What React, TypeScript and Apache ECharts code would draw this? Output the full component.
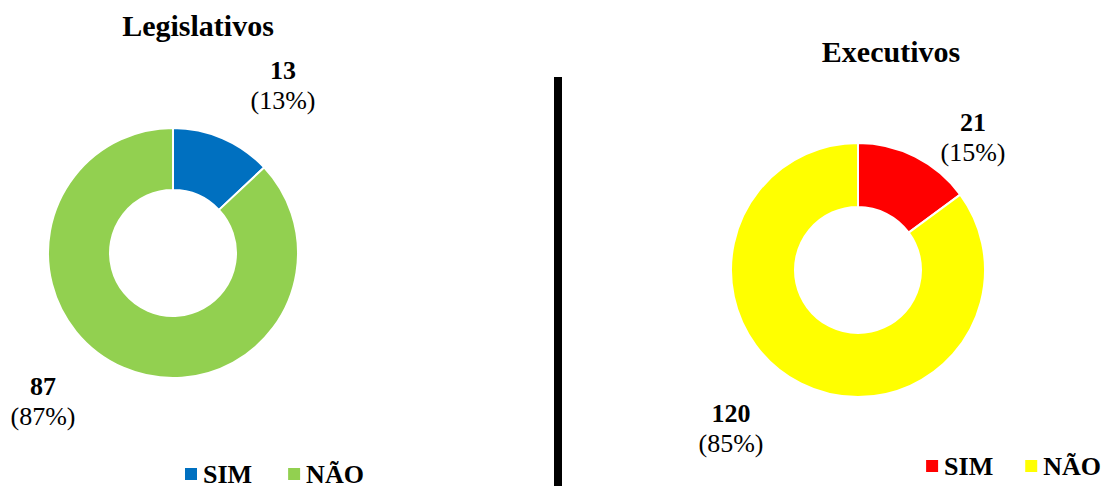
import React, { useEffect, useRef } from "react";
import * as echarts from "echarts";

const categories = ["SIM", "NÃO"];
const legislativosValues = [13, 87];
const executivosValues = [21, 120];
const legislativosColors = ["#0070C0", "#92D050"];
const executivosColors = ["#FF0000", "#FFFF00"];
const titles = ["Legislativos", "Executivos"];

const FONT = "Liberation Serif";

export default function App() {
  const ref = useRef<HTMLDivElement>(null);
  useEffect(() => {
    document.body.style.margin = "0";
    const chart = echarts.init(ref.current!, null, { renderer: "svg" });
    const leftLabelPos = [
      [283, 85],
      [43, 401],
    ];
    const rightLabelPos = [
      [973, 137],
      [731, 428],
    ];
    const label = {
      show: true,
      formatter: "{a|{c}}\n{b|({d}%)}",
      rich: {
        a: { fontFamily: FONT, fontWeight: "bold", fontSize: 26, color: "#000", lineHeight: 30 },
        b: { fontFamily: FONT, fontSize: 26, color: "#000", lineHeight: 30 },
      },
    };
    const legendText = { fontFamily: FONT, fontWeight: "bold", fontSize: 26, color: "#000", lineHeight: 20 };
    chart.setOption({
      animation: false,
      title: [
        {
          text: titles[0],
          left: 198,
          top: 10,
          textAlign: "center",
          padding: 0,
          textStyle: { fontFamily: FONT, fontWeight: "bold", fontSize: 30, color: "#000" },
        },
        {
          text: titles[1],
          left: 891,
          top: 36,
          textAlign: "center",
          padding: 0,
          textStyle: { fontFamily: FONT, fontWeight: "bold", fontSize: 30, color: "#000" },
        },
      ],
      legend: [
        {
          left: 183,
          top: 461,
          padding: 0,
          icon: "rect",
          itemWidth: 14,
          itemHeight: 14,
          itemGap: 34,
          textStyle: legendText,
          data: categories.map((c, i) => ({ name: c, itemStyle: { color: legislativosColors[i] } })),
        },
        {
          right: 5,
          top: 453,
          width: 300,
          padding: 0,
          icon: "rect",
          itemWidth: 14,
          itemHeight: 14,
          itemGap: 30,
          textStyle: legendText,
          data: categories.map((c, i) => ({ name: c, itemStyle: { color: executivosColors[i] } })),
        },
      ],
      graphic: [
        { type: "rect", shape: { x: 554, y: 77, width: 8, height: 420 }, style: { fill: "#000" } },
      ],
      series: [
        {
          type: "pie",
          center: [173, 253],
          radius: [63, 125],
          startAngle: 90,
          clockwise: true,
          percentPrecision: 0,
          itemStyle: { borderColor: "#fff", borderWidth: 2 },
          label,
          labelLine: { show: false },
          labelLayout: (p: any) => ({
            x: leftLabelPos[p.dataIndex][0],
            y: leftLabelPos[p.dataIndex][1],
            align: "center",
            verticalAlign: "middle",
          }),
          emphasis: { disabled: true },
          data: categories.map((c, i) => ({
            name: c,
            value: legislativosValues[i],
            itemStyle: { color: legislativosColors[i] },
          })),
        },
        {
          type: "pie",
          center: [858, 270],
          radius: [63, 127],
          startAngle: 90,
          clockwise: true,
          percentPrecision: 0,
          itemStyle: { borderColor: "#fff", borderWidth: 2 },
          label,
          labelLine: { show: false },
          labelLayout: (p: any) => ({
            x: rightLabelPos[p.dataIndex][0],
            y: rightLabelPos[p.dataIndex][1],
            align: "center",
            verticalAlign: "middle",
          }),
          emphasis: { disabled: true },
          data: categories.map((c, i) => ({
            name: c,
            value: executivosValues[i],
            itemStyle: { color: executivosColors[i] },
          })),
        },
      ],
    });
    return () => chart.dispose();
  }, []);
  return <div ref={ref} style={{ width: 1106, height: 486 }} />;
}
